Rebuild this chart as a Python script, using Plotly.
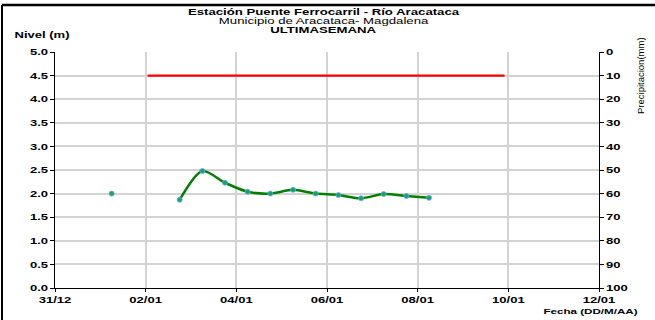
import plotly.graph_objects as go

# Nivel (m) - last week readings
lone_time = ["2020-01-01 06:00"]
lone_level = [2.0]

level_times = ["2020-01-02 18:00", "2020-01-03 06:00", "2020-01-03 18:00", "2020-01-04 06:00",
               "2020-01-04 18:00", "2020-01-05 06:00", "2020-01-05 18:00", "2020-01-06 06:00",
               "2020-01-06 18:00", "2020-01-07 06:00", "2020-01-07 18:00", "2020-01-08 06:00"]
level_values = [1.87, 2.48, 2.23, 2.04, 2.00, 2.08, 2.00, 1.97, 1.90, 1.99, 1.95, 1.91]

alert_times = ["2020-01-02 01:00", "2020-01-09 22:00"]
alert_values = [4.5, 4.5]

precip_times = []
precip_values = []

tick_dates = ["2019-12-31", "2020-01-02", "2020-01-04", "2020-01-06", "2020-01-08", "2020-01-10", "2020-01-12"]
tick_labels = ["31/12", "02/01", "04/01", "06/01", "08/01", "10/01", "12/01"]

FONT = "Liberation Sans, Arial, sans-serif"
BOLD = dict(size=9, family=FONT, color="black", weight="bold")

fig = go.Figure()
fig.add_trace(go.Scatter(x=alert_times, y=alert_values, mode="lines",
                         line=dict(color="#ff0000", width=2.3), showlegend=False, hoverinfo="skip"))
fig.add_trace(go.Scatter(x=level_times, y=level_values, mode="lines",
                         line=dict(color="#008000", width=2.5, shape="spline", smoothing=0.8),
                         showlegend=False))
fig.add_trace(go.Scatter(x=level_times + lone_time, y=level_values + lone_level, mode="markers",
                         marker=dict(color="#16a07a", size=5, line=dict(color="#6aaad8", width=0.8)),
                         showlegend=False))
fig.add_trace(go.Scatter(x=precip_times, y=precip_values, yaxis="y2", mode="markers",
                         showlegend=False))

fig.update_layout(
    width=655, height=320,
    margin=dict(l=55, r=56, t=52, b=32),
    paper_bgcolor="white", plot_bgcolor="white",
    font=dict(family=FONT, size=9, color="black"),
    xaxis=dict(type="date", range=["2019-12-31", "2020-01-12"],
               tickvals=tick_dates, ticktext=tick_labels, tickfont=BOLD,
               showgrid=True, gridcolor="#d3d3d3", gridwidth=1.5,
               showline=True, linecolor="black", linewidth=1.2,
               ticks="outside", ticklen=3, tickcolor="black", zeroline=False, fixedrange=True),
    yaxis=dict(range=[0, 5], dtick=0.5, tickformat=".1f", tickfont=BOLD,
               showgrid=True, gridcolor="#d3d3d3", gridwidth=1.5,
               showline=True, linecolor="black", linewidth=1.2,
               ticks="outside", ticklen=4, tickcolor="black", zeroline=False),
    yaxis2=dict(range=[100, 0], dtick=10, overlaying="y", side="right", tickfont=BOLD,
                showgrid=False, showline=True, linecolor="black", linewidth=1.2,
                ticks="outside", ticklen=4, tickcolor="black", zeroline=False),
)

annots = [
    dict(text="Estación Puente Ferrocarril - Río Aracataca", x=323, y=12, w="bold"),
    dict(text="Municipio de Aracataca- Magdalena", x=323, y=21, w="normal"),
    dict(text="ULTIMASEMANA", x=323, y=30.5, w="bold"),
]
for a in annots:
    fig.add_annotation(text=a["text"], xref="paper", yref="paper",
                       x=(a["x"] - 55) / 544, y=(288 - a["y"]) / 236,
                       xanchor="center", yanchor="middle", showarrow=False, borderpad=0,
                       font=dict(size=8.5, family=FONT, color="black", weight=a["w"]))

fig.add_annotation(text="Nivel (m)", xref="paper", yref="paper",
                   x=(42 - 55) / 544, y=(288 - 35) / 236, xanchor="center", yanchor="middle",
                   showarrow=False, font=BOLD)
fig.add_annotation(text="Fecha (DD/M/AA)", xref="paper", yref="paper",
                   x=(590 - 55) / 544, y=(288 - 311) / 236, xanchor="center", yanchor="middle",
                   showarrow=False, font=dict(size=8, family=FONT, color="black", weight="bold"))
fig.add_annotation(text="Precipitacion(mm)", xref="paper", yref="paper", textangle=-90,
                   x=(641 - 55) / 544, y=(288 - 76) / 236, xanchor="center", yanchor="middle",
                   showarrow=False, font=dict(size=9.5, family=FONT, color="black"))

# outer frame (top and left edges)
fig.add_shape(type="line", xref="paper", yref="paper",
              x0=(2 - 55) / 544, x1=(660 - 55) / 544, y0=(288 - 5) / 236, y1=(288 - 5) / 236,
              line=dict(color="black", width=2.5))
fig.add_shape(type="line", xref="paper", yref="paper",
              x0=(2 - 55) / 544, x1=(2 - 55) / 544, y0=(288 - 5) / 236, y1=(288 - 330) / 236,
              line=dict(color="black", width=2))

post = """
document.body.style.margin = '0';
var gd = document.getElementById('{plot_id}');
gd.querySelectorAll('text').forEach(function(t){
  var s = t.textContent || '';
  if (!s || s.indexOf('Precipitacion') === 0) return;
  var f = 1.45;
  if (s.indexOf('Estaci') === 0 || s.indexOf('Municipio') === 0 || s.indexOf('ULTIMA') === 0) f = 1.55;
  var L = t.getComputedTextLength();
  if (L > 0) {
    t.setAttribute('textLength', (L * f).toFixed(1));
    t.setAttribute('lengthAdjust', 'spacingAndGlyphs');
  }
});
"""

fig.write_html("out.html", post_script=post, config={"displayModeBar": False})
